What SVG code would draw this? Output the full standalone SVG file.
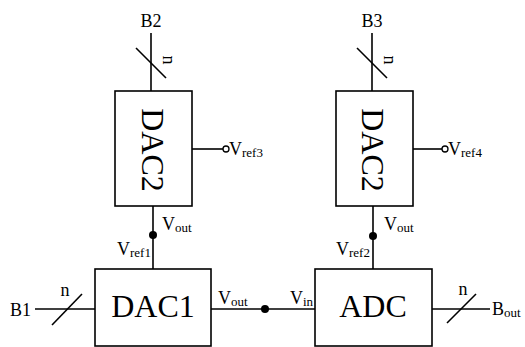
<svg xmlns="http://www.w3.org/2000/svg" width="525" height="347" viewBox="0 0 525 347">
<style>
.box{fill:#fff;stroke:#000;stroke-width:1.6}
.w{fill:none;stroke:#000;stroke-width:1.6}
text{font-family:"Liberation Serif","Times New Roman",serif;fill:#000}
.big{font-size:32px}
.lb{font-size:18px}
.sub{font-size:13px}
.dot{fill:#000}
</style>
<rect width="525" height="347" fill="#fff"/>
<g id="connectors">
<line class="w" x1="151" y1="33" x2="151" y2="91"/>
<line class="w" x1="136" y1="48" x2="166" y2="78"/>
<line class="w" x1="372" y1="33" x2="372" y2="91"/>
<line class="w" x1="357" y1="48" x2="387" y2="78"/>
<line class="w" x1="192" y1="149" x2="223" y2="149"/>
<circle cx="226" cy="149" r="3" fill="#fff" stroke="#000" stroke-width="1.3"/>
<line class="w" x1="413" y1="149" x2="442" y2="149"/>
<circle cx="445" cy="149" r="3" fill="#fff" stroke="#000" stroke-width="1.3"/>
<line class="w" x1="153" y1="206" x2="153" y2="269"/>
<circle class="dot" cx="153" cy="235" r="4"/>
<line class="w" x1="373" y1="206" x2="373" y2="269"/>
<circle class="dot" cx="373" cy="236" r="4"/>
<line class="w" x1="35" y1="309" x2="95" y2="309"/>
<line class="w" x1="52" y1="325" x2="82" y2="294"/>
<line class="w" x1="211" y1="309" x2="315" y2="309"/>
<circle class="dot" cx="265" cy="309" r="4"/>
<line class="w" x1="432" y1="309" x2="490" y2="309"/>
<line class="w" x1="447" y1="323" x2="476" y2="294"/>
</g>
<g id="dac2a">
<rect class="box" x="115" y="91" width="77" height="115"/>
<text class="big" text-anchor="middle" transform="translate(142,150) rotate(90)">DAC2</text>
</g>
<g id="dac2b">
<rect class="box" x="336" y="91" width="77" height="115"/>
<text class="big" text-anchor="middle" transform="translate(362,150) rotate(90)">DAC2</text>
</g>
<g id="dac1">
<rect class="box" x="95" y="269" width="116" height="77"/>
<text class="big" x="153" y="317" text-anchor="middle">DAC1</text>
</g>
<g id="adc">
<rect class="box" x="315" y="269" width="117" height="77"/>
<text class="big" x="373" y="317" text-anchor="middle">ADC</text>
</g>
<g id="labels">
<text class="lb" x="151" y="27" text-anchor="middle">B2</text>
<text class="lb" x="372" y="27" text-anchor="middle">B3</text>
<text class="lb" text-anchor="middle" transform="translate(163,60) rotate(90)">n</text>
<text class="lb" text-anchor="middle" transform="translate(384,60) rotate(90)">n</text>
<text class="lb" x="229" y="155">V<tspan class="sub" dy="2">ref3</tspan></text>
<text class="lb" x="448" y="155">V<tspan class="sub" dy="2">ref4</tspan></text>
<text class="lb" x="162" y="230">V<tspan class="sub" dy="2">out</tspan></text>
<text class="lb" x="384" y="230">V<tspan class="sub" dy="2">out</tspan></text>
<text class="lb" x="117" y="255">V<tspan class="sub" dy="2">ref1</tspan></text>
<text class="lb" x="336" y="255">V<tspan class="sub" dy="2">ref2</tspan></text>
<text class="lb" x="10" y="316">B1</text>
<text class="lb" x="65" y="296" text-anchor="middle">n</text>
<text class="lb" x="463" y="295" text-anchor="middle">n</text>
<text class="lb" x="218" y="304">V<tspan class="sub" dy="2">out</tspan></text>
<text class="lb" x="290" y="304">V<tspan class="sub" dy="2">in</tspan></text>
<text class="lb" x="492" y="315">B<tspan class="sub" dy="2">out</tspan></text>
</g>
</svg>
